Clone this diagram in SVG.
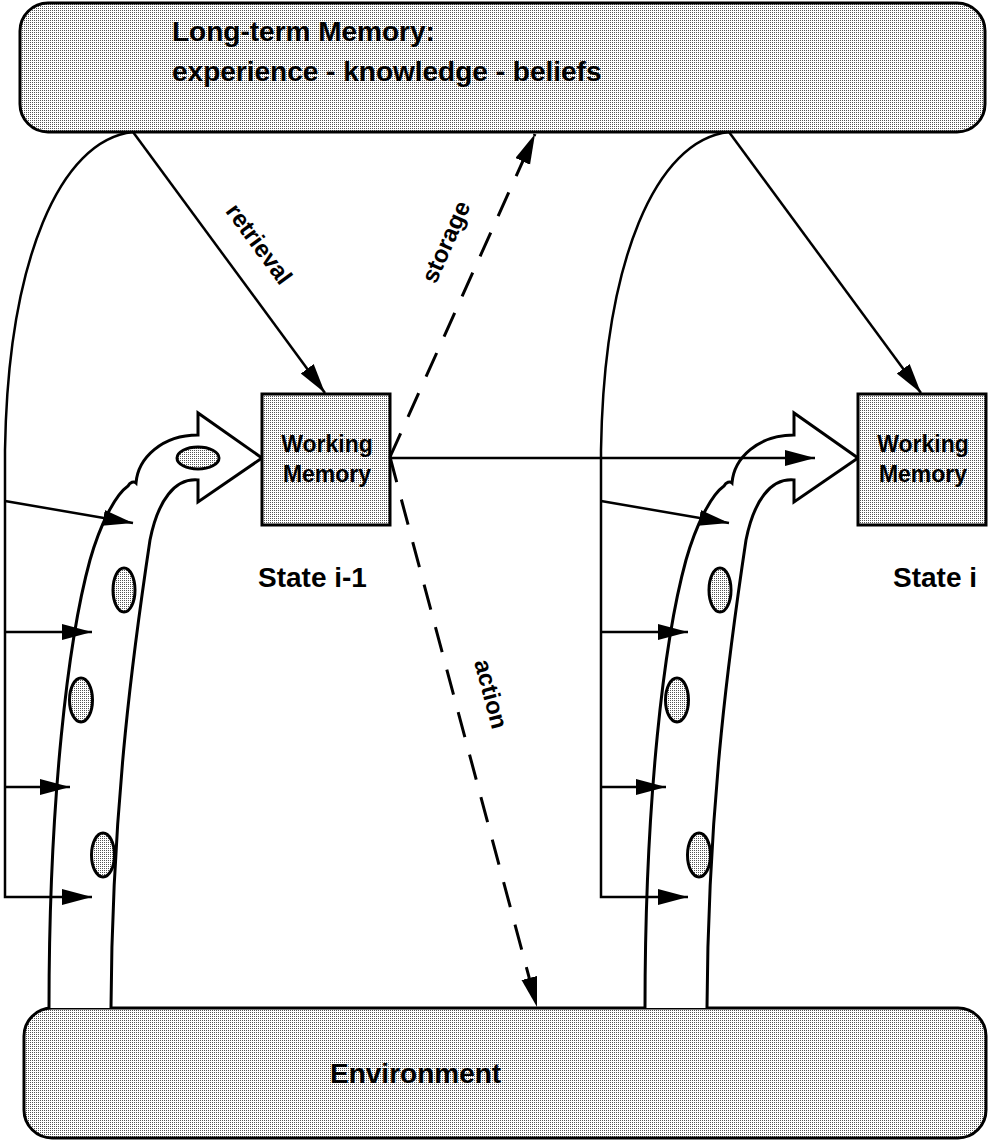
<svg xmlns="http://www.w3.org/2000/svg" width="989" height="1142" viewBox="0 0 989 1142">
  <defs>
    <!-- fine stipple used for every shaded surface -->
    <pattern id="stipple" width="2" height="2" patternUnits="userSpaceOnUse">
      <rect width="2" height="2" fill="#ffffff"/>
      <rect width="1" height="1" fill="#555555"/>
    </pattern>
    <marker id="head" markerUnits="userSpaceOnUse" markerWidth="32" markerHeight="18" refX="30" refY="8" orient="auto">
      <path d="M0,0 L30,8 L0,16 Z" fill="#000"/>
    </marker>
    <style>
      .box { fill: url(#stipple); stroke: #000; stroke-width: 3; }
      .band { fill: #fff; stroke: #000; stroke-width: 3; stroke-linejoin: miter; }
      .blob { fill: url(#stipple); stroke: #000; stroke-width: 3; }
      .wire { fill: none; stroke: #000; stroke-width: 2.5; }
      .dash { fill: none; stroke: #000; stroke-width: 3; stroke-dasharray: 26 18; }
      .lbl { font-family: "Liberation Sans", Arial, Helvetica, sans-serif; font-weight: bold; fill: #000; }
      .big { font-size: 28px; }
      .wm { font-size: 23px; text-anchor: middle; }
      .rot { font-size: 24px; text-anchor: middle; }
    </style>
  </defs>

  <rect width="989" height="1142" fill="#fff"/>

  <!-- long-term memory store -->
  <g id="long-term-memory">
    <rect class="box" x="20" y="3" width="965" height="129" rx="28" ry="28"/>
    <text class="lbl big" x="172" y="41">Long-term Memory:</text>
    <text class="lbl big" x="172" y="81">experience - knowledge - beliefs</text>
  </g>

  <!-- environment -->
  <g id="environment">
    <rect class="box" x="24" y="1008" width="962" height="130" rx="28" ry="28"/>
    <text class="lbl big" x="330" y="1083">Environment</text>
  </g>

  <!-- perception stream feeding state i-1 -->
  <g id="perception-1">
    <path class="band" d="M 49 1008 C 49 800 68 640 90 560 C 100 525 115 495 128 486 c 2 -4 6 -5 8 -3 C 138 458 162 435 198 435 L 198 413 L 262 458 L 198 502 L 198 480 C 175 478 158 500 150 540 C 135 640 112 800 111 1008"/>
    <ellipse class="blob" cx="198" cy="458" rx="21" ry="11"/>
    <ellipse class="blob" cx="124" cy="590" rx="11" ry="22"/>
    <ellipse class="blob" cx="81" cy="700" rx="11.5" ry="22"/>
    <ellipse class="blob" cx="103" cy="855" rx="11.5" ry="22"/>
  </g>

  <!-- perception stream feeding state i -->
  <g id="perception-2" transform="translate(596,0)">
    <path class="band" d="M 49 1008 C 49 800 68 640 90 560 C 100 525 115 495 128 486 c 2 -4 6 -5 8 -3 C 138 458 162 435 198 435 L 198 413 L 262 458 L 198 502 L 198 480 C 175 478 158 500 150 540 C 135 640 112 800 111 1008"/>
    <ellipse class="blob" cx="124" cy="590" rx="11" ry="22"/>
    <ellipse class="blob" cx="81" cy="700" rx="11.5" ry="22"/>
    <ellipse class="blob" cx="103" cy="855" rx="11.5" ry="22"/>
  </g>

  <!-- working memory, state i-1 -->
  <g id="working-memory-1">
    <rect class="box" x="262" y="394" width="128" height="131"/>
    <text class="lbl wm" x="327" y="452">Working</text>
    <text class="lbl wm" x="327" y="482">Memory</text>
    <text class="lbl big" x="258" y="587">State i-1</text>
  </g>

  <!-- working memory, state i -->
  <g id="working-memory-2">
    <rect class="box" x="858" y="394" width="128" height="131"/>
    <text class="lbl wm" x="923" y="452">Working</text>
    <text class="lbl wm" x="923" y="482">Memory</text>
    <text class="lbl big" x="893" y="587">State i</text>
  </g>

  <g id="connectors">
    <!-- long-term memory influence on perception, state i-1 -->
    <path class="wire" d="M 133 132 C 60 140 8 260 5 450 L 5 897 L 92 897" marker-end="url(#head)"/>
    <line class="wire" x1="5" y1="501" x2="133" y2="523" marker-end="url(#head)"/>
    <line class="wire" x1="5" y1="632" x2="92" y2="632" marker-end="url(#head)"/>
    <line class="wire" x1="5" y1="787" x2="70" y2="787" marker-end="url(#head)"/>
    <line class="wire" x1="133" y1="132" x2="325" y2="393" marker-end="url(#head)"/>

    <!-- long-term memory influence on perception, state i -->
    <path class="wire" d="M 729 132 C 656 140 604 260 601 450 L 601 897 L 688 897" marker-end="url(#head)"/>
    <line class="wire" x1="601" y1="501" x2="729" y2="523" marker-end="url(#head)"/>
    <line class="wire" x1="601" y1="632" x2="688" y2="632" marker-end="url(#head)"/>
    <line class="wire" x1="601" y1="787" x2="666" y2="787" marker-end="url(#head)"/>
    <line class="wire" x1="729" y1="132" x2="921" y2="393" marker-end="url(#head)"/>

    <!-- state transition -->
    <line class="wire" x1="390" y1="458" x2="815" y2="458" marker-end="url(#head)"/>

    <!-- storage and action -->
    <line class="dash" x1="390" y1="457" x2="535" y2="134" marker-end="url(#head)"/>
    <line class="dash" x1="390" y1="457" x2="537" y2="1007" marker-end="url(#head)"/>

    <text class="lbl rot" transform="translate(259,244) rotate(53.6)" y="8">retrieval</text>
    <text class="lbl rot" transform="translate(446,242) rotate(-66)" y="8">storage</text>
    <text class="lbl rot" transform="translate(491,694) rotate(75)" y="8">action</text>
  </g>
</svg>
